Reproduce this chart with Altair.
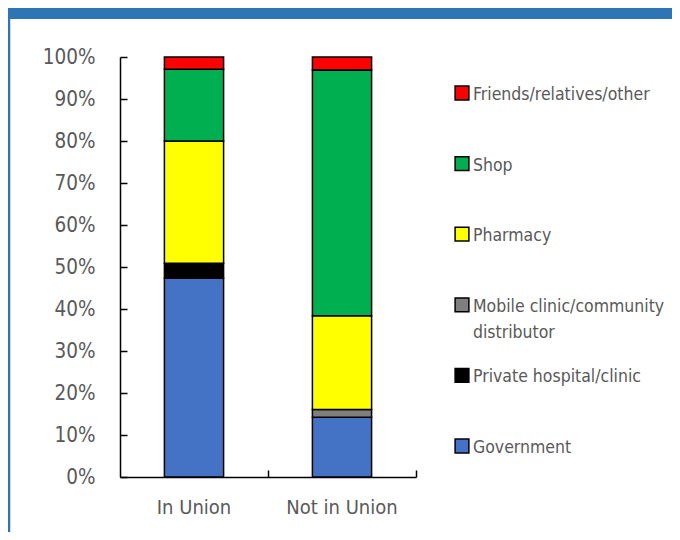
import altair as alt
import pandas as pd

groups = ["In Union", "Not in Union"]
sources = ["Government", "Private hospital/clinic", "Mobile clinic/community distributor",
           "Pharmacy", "Shop", "Friends/relatives/other"]
colors = ["#4472C4", "#000000", "#7F7F7F", "#FFFF00", "#00B050", "#FF0000"]
in_union = [47.3, 3.6, 0.0, 29.1, 17.1, 2.9]
not_in_union = [14.2, 0.0, 1.9, 22.3, 58.5, 3.1]
y_ticks = [0, 10, 20, 30, 40, 50, 60, 70, 80, 90, 100]
legend_labels = [["Friends/relatives/other"], ["Shop"], ["Pharmacy"],
                 ["Mobile clinic/community", "distributor"],
                 ["Private hospital/clinic"], ["Government"]]

FONT = "DejaVu Sans Condensed, sans-serif"
GREY = "#595959"
BLUE = "#2E75B6"

rows = []
for g, vals in zip(groups, [in_union, not_in_union]):
    for i, (s, v) in enumerate(zip(sources, vals)):
        if v > 0:
            rows.append({"group": g, "source": s, "value": v, "idx": i})
df = pd.DataFrame(rows)

leg_order = list(reversed(sources))
leg_df = pd.DataFrame({"source": leg_order, "label": legend_labels})

xscale = alt.Scale(domain=groups, paddingInner=0.6, paddingOuter=0.3)
yscale = alt.Scale(domain=[0, 100], nice=False)
cscale = alt.Scale(domain=sources, range=colors)

bars = alt.Chart(df).mark_bar(stroke="black", strokeWidth=1.5).encode(
    x=alt.X("group:N", sort=groups, scale=xscale, title=None,
            axis=alt.Axis(labelAngle=0, labelFont=FONT, labelFontSize=20, labelColor=GREY,
                          labelPadding=20, ticks=False, tickSize=0, domainColor="black",
                          domainWidth=1.5, grid=False)),
    y=alt.Y("value:Q", stack="zero", scale=yscale, title=None,
            axis=alt.Axis(values=y_ticks, labelExpr="datum.value + '%'", labelFont=FONT,
                          labelFontSize=20.5, labelColor=GREY, labelPadding=25, ticks=False,
                          tickSize=0, domainColor="black", domainWidth=1.5, grid=False)),
    color=alt.Color("source:N", scale=cscale, legend=None),
    order=alt.Order("idx:Q"),
)

tick_layer = alt.Chart(df).mark_bar(opacity=0).encode(
    x=alt.X("group:N", sort=groups, scale=xscale, title=None,
            axis=alt.Axis(orient="bottom", labels=False, domain=False, ticks=True, bandPosition=1.75,
                          tickSize=7, offset=-7, tickColor="black", tickWidth=1.5, grid=False)),
    y=alt.Y("value:Q", stack="zero", scale=yscale, title=None,
            axis=alt.Axis(orient="left", values=y_ticks, labels=False, domain=False, ticks=True,
                          tickSize=7, offset=-7, tickColor="black", tickWidth=1.5, grid=False)),
)

leg_y = alt.Y("source:N", sort=leg_order,
              scale=alt.Scale(type="point", domain=leg_order, range=[36, 389], padding=0),
              axis=None)

leg_sym = alt.Chart(leg_df).mark_square(size=190, stroke="black", strokeWidth=1.5, opacity=1).encode(
    x=alt.value(342),
    y=leg_y,
    color=alt.Color("source:N", scale=cscale, legend=None),
)

leg_txt = alt.Chart(leg_df).mark_text(align="left", baseline="alphabetic", dy=7, font=FONT,
                                      fontSize=17.5, color=GREY, lineHeight=26).encode(
    x=alt.value(353),
    y=leg_y,
    text="label",
)

frame = pd.DataFrame({"k": [0]})
header = alt.Chart(frame).mark_rect(color=BLUE).encode(
    x=alt.value(-112), x2=alt.value(560), y=alt.value(-49), y2=alt.value(-38)
)
border = alt.Chart(frame).mark_rule(color=BLUE, strokeWidth=2.5).encode(
    x=alt.value(-111), y=alt.value(-38), y2=alt.value(480)
)

chart = alt.layer(header, border, bars, tick_layer, leg_sym, leg_txt).resolve_scale(
    y="independent"
).resolve_axis(x="independent", y="independent").properties(
    width=296, height=420,
    autosize=alt.AutoSizeParams(type="none"),
    padding={"left": 112, "top": 49, "right": 256, "bottom": 55},
).configure_view(stroke=None)

chart.save("out.html", embed_options={"renderer": "svg", "actions": False})
